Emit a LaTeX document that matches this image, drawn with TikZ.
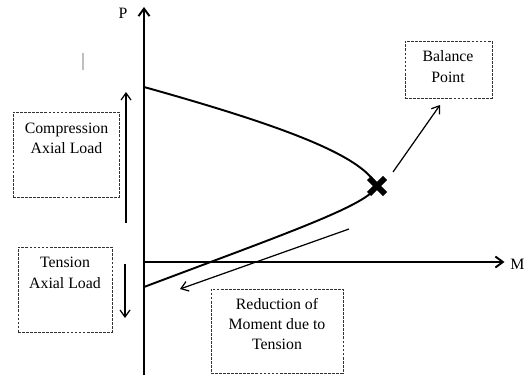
\documentclass[tikz,border=0pt]{standalone}
\usepackage{fontspec}
\setmainfont{Liberation Serif}
\usetikzlibrary{arrows.meta,calc,positioning}

\begin{document}
\begin{tikzpicture}[
      font=\fontsize{9}{11.6}\selectfont,
      note/.style={draw=black!80, dash pattern=on 1.6pt off 0.7pt, line width=0.5pt},
      axis/.style={line width=1.1pt, -{Straight Barb[length=1.5mm,width=2.2mm,line width=1.1pt]}},
      load/.style={line width=0.7pt, -{Straight Barb[length=1.4mm,width=2mm]}}
    ]
      \useasboundingbox (0,0) rectangle (10.52,7.5);

      % Axes P and M
      \coordinate (pbot) at (2.88,0);
      \coordinate (ptop) at (2.88,7.36);
      \coordinate (orig) at (2.88,2.26);
      \coordinate (mend) at (10.09,2.26);
      \draw[axis] (pbot) -- (ptop);
      \draw[axis] (orig) -- (mend);
      \node (plab) at (2.46,7.24) {P};
      \node[anchor=west, inner sep=0pt] (mlab) at (10.2,2.22) {M};
      \draw[black!25, line width=0.6pt] (1.66,6.44) -- (1.66,6.1);

      % Interaction curve with balance point
      \coordinate (ctop) at (2.88,5.76);
      \coordinate (bp) at (7.54,3.78);
      \coordinate (cbot) at (2.88,1.76);
      \draw[line width=1.1pt] (ctop) .. controls (5.6,5.0) and (7.24,4.4) .. (bp)
        .. controls (7.36,3.4) and (5.8,2.86) .. (cbot);
      \draw[line width=3.4pt] ($(bp)+(-0.16,-0.16)$) -- ($(bp)+(0.16,0.16)$)
        ($(bp)+(-0.16,0.16)$) -- ($(bp)+(0.16,-0.16)$);

      % Dashed note boxes
      \node[note, minimum width=1.74cm, minimum height=1.14cm] (bal) at (8.97,6.11) {};
      \node[align=center] (baltxt) at (8.96,6.17) {Balance\\Point};
      \node[note, minimum width=2.12cm, minimum height=1.7cm] (comp) at (1.32,4.41) {};
      \node[align=center] (comptxt) at (1.33,4.73) {Compression\\Axial Load};
      \node[note, minimum width=1.88cm, minimum height=1.7cm] (tens) at (1.3,1.71) {};
      \node[align=center] (tenstxt) at (1.3,2.04) {Tension\\Axial Load};
      \node[note, minimum width=2.64cm, minimum height=1.68cm] (red) at (5.54,0.88) {};
      \node[align=center] (redtxt) at (5.54,1.02) {Reduction of\\Moment due to\\Tension};

      % Arrows
      \coordinate (balfrom) at (7.86,4.06);
      \coordinate (balto) at (8.8,5.4);
      \coordinate (compfrom) at (2.52,3.04);
      \coordinate (compto) at (2.52,5.66);
      \coordinate (tensfrom) at (2.5,2.22);
      \coordinate (tensto) at (2.5,1.14);
      \coordinate (redfrom) at (6.98,2.92);
      \coordinate (redto) at (3.6,1.72);
      \draw[load] (balfrom) -- (balto);
      \draw[load] (compfrom) -- (compto);
      \draw[load] (tensfrom) -- (tensto);
      \draw[load] (redfrom) -- (redto);
    \end{tikzpicture}
\end{document}
